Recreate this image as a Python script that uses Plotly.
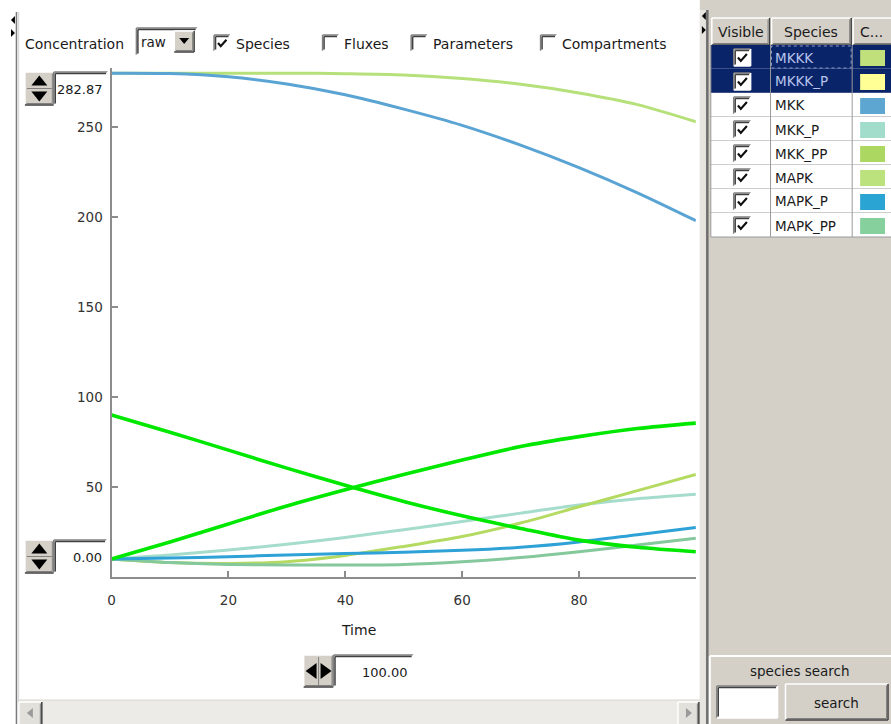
import plotly.graph_objects as go

W, H = 891, 724

# ---------------- data ----------------
time = [0, 10, 20, 30, 40, 50, 60, 70, 80, 90, 100]
species = ["MKKK", "MKKK_P", "MKK", "MKK_P", "MKK_PP", "MAPK", "MAPK_P", "MAPK_PP"]
MKKK = [90, 80.5, 70.5, 60.5, 51, 42, 34, 27, 20.5, 16.5, 14]
MKKK_P = [10, 19.5, 29.5, 39.5, 48.5, 57, 65, 72.5, 78, 82.5, 85.5]
MKK = [280, 279.8, 278, 274, 268, 260, 251, 240, 227.5, 213.5, 198]
MKK_P = [10, 12.2, 15, 18.2, 22, 26.3, 30.8, 35.5, 40, 43.5, 46]
MKK_PP = [10, 8, 7.5, 8.5, 12, 17, 22.5, 30, 39, 48, 57]
MAPK = [280, 280, 280, 280, 279.7, 279, 277, 273.8, 269, 262.5, 253]
MAPK_P = [10, 10.5, 11.3, 12.2, 13, 13.8, 14.8, 16.5, 19.5, 23.5, 27.5]
MAPK_PP = [10, 8, 7, 6.7, 6.6, 7, 8.5, 10.8, 14, 17.8, 21.5]
values = {"MKKK": MKKK, "MKKK_P": MKKK_P, "MKK": MKK, "MKK_P": MKK_P,
          "MKK_PP": MKK_PP, "MAPK": MAPK, "MAPK_P": MAPK_P, "MAPK_PP": MAPK_PP}
swatch_colors = ["#c0e07c", "#ffff96", "#5ea6d2", "#a2dccb", "#acd862",
                 "#bce27e", "#2aa4d2", "#86d09e"]
line_colors = ["#00e800", "#00e800", "#5aa4d4", "#a5dccc", "#b4da62",
               "#b6e07a", "#2ea2d6", "#84c89c"]
selected = ["MKKK", "MKKK_P"]
draw_order = ["MAPK", "MKK", "MKK_P", "MKK_PP", "MAPK_PP", "MAPK_P", "MKKK", "MKKK_P"]
y_ticks = [50, 100, 150, 200, 250]
x_ticks = [0, 20, 40, 60, 80, 100]
x_tick_text = ["0", "20", "40", "60", "80", ""]
y_min, y_max = 0.0, 282.87
t_max = 100.0
x_title = "Time"

FONT = "DejaVu Sans"

# ---------------- helpers (GUI chrome, pixel coords) ----------------
shapes, annots = [], []


def X(x):
    return x / W


def Y(y):
    return 1 - y / H


def rect(x0, y0, x1, y1, fill=None, line=None, lw=1, dash=None):
    ln = dict(color=line if line else "rgba(0,0,0,0)", width=lw if line else 0)
    if dash:
        ln["dash"] = dash
    shapes.append(dict(type="rect", xref="paper", yref="paper",
                       x0=X(x0), x1=X(x1), y0=Y(y1), y1=Y(y0),
                       fillcolor=fill if fill else "rgba(0,0,0,0)",
                       line=ln, layer="above"))


def line(x0, y0, x1, y1, color, lw=1):
    shapes.append(dict(type="line", xref="paper", yref="paper",
                       x0=X(x0), x1=X(x1), y0=Y(y0), y1=Y(y1),
                       line=dict(color=color, width=lw), layer="above"))


def poly(pts, fill=None, color=None, lw=1, close=True):
    p = "M " + " L ".join(f"{X(a):.5f},{Y(b):.5f}" for a, b in pts)
    if close:
        p += " Z"
    shapes.append(dict(type="path", xref="paper", yref="paper", path=p,
                       fillcolor=fill if fill else "rgba(0,0,0,0)",
                       line=dict(color=color if color else "rgba(0,0,0,0)",
                                 width=lw if color else 0), layer="above"))


def text(x, y, s, size=13, color="#1a1a1a", xanchor="left", family=FONT):
    annots.append(dict(x=X(x), y=Y(y), xref="paper", yref="paper", text=s,
                       showarrow=False, xanchor=xanchor, yanchor="middle",
                       font=dict(size=size, color=color, family=family),
                       borderpad=0))


def raised(x0, y0, x1, y1, fill="#d4d0c8"):
    rect(x0, y0, x1, y1, fill=fill)
    line(x0, y0, x1, y0, "#ffffff", 1.5)
    line(x0, y0, x0, y1, "#ffffff", 1.5)
    line(x0, y1, x1, y1, "#404040", 1.5)
    line(x1, y0, x1, y1, "#404040", 1.5)
    line(x0 + 1.5, y1 - 1.5, x1 - 1.5, y1 - 1.5, "#808080", 1)
    line(x1 - 1.5, y0 + 1.5, x1 - 1.5, y1 - 1.5, "#808080", 1)


def sunken(x0, y0, x1, y1, fill="#ffffff"):
    rect(x0, y0, x1, y1, fill=fill)
    line(x0, y0, x1, y0, "#808080", 1.5)
    line(x0, y0, x0, y1, "#808080", 1.5)
    line(x0 + 1.5, y0 + 1.5, x1 - 1.5, y0 + 1.5, "#404040", 1.5)
    line(x0 + 1.5, y0 + 1.5, x0 + 1.5, y1 - 1.5, "#404040", 1.5)
    line(x0, y1, x1, y1, "#ffffff", 1.5)
    line(x1, y0, x1, y1, "#ffffff", 1.5)


def checkbox(x0, y0, size, checked=True):
    sunken(x0, y0, x0 + size, y0 + size)
    if checked:
        s = size
        poly([(x0 + 0.25 * s, y0 + 0.5 * s), (x0 + 0.42 * s, y0 + 0.7 * s),
              (x0 + 0.78 * s, y0 + 0.3 * s)], color="#101010", lw=2.2, close=False)


def vspinner(x0, y0, x1, y1, tx1, label):
    bx = x0 + 29
    raised(x0, y0, bx, y1)
    ym = (y0 + y1) / 2
    line(x0 + 2, ym, bx - 2, ym, "#808080", 1)
    cx = (x0 + bx) / 2
    poly([(cx - 8, ym - 3), (cx + 8, ym - 3), (cx, ym - 13)], fill="#000000")
    poly([(cx - 8, ym + 3), (cx + 8, ym + 3), (cx, ym + 13)], fill="#000000")
    sunken(bx, y0, tx1, y1)
    text(tx1 - 4, ym + 1, label, size=13, xanchor="right")


# ---------------- background panels ----------------
# left panel border
line(12.5, 12, 12.5, H, "#7a7a7a", 1.5)
line(14.5, 12, 14.5, H, "#d8d8d8", 1.5)
# split-pane arrows (left)
poly([(7, 20), (11, 16), (11, 24)], fill="#000000")
poly([(11, 33), (7, 29), (7, 37)], fill="#000000")

# right panel
rect(699, 0, W, H, fill="#d4d0c8")
rect(699, 10, 705, H, fill="#e6e4df")
line(706.5, 10, 706.5, H, "#6e6e6e", 2.5)
poly([(701, 16), (705, 12), (705, 20)], fill="#000000")
poly([(705, 30), (701, 26), (701, 34)], fill="#000000")

# ---------------- control bar ----------------
text(20, 43.5, "Concentration", size=14)
sunken(133, 28, 194, 55)
text(137, 42, "raw", size=13.5)
raised(171, 31, 191, 52)
poly([(176, 38), (186, 38), (181, 44)], fill="#000000")
cb_items = [("Species", 211, True), ("Fluxes", 320, False),
            ("Parameters", 409, False), ("Compartments", 539, False)]
for lbl, cx0, chk in cb_items:
    checkbox(cx0, 35, 16, chk)
    text(cx0 + 21, 43.5, lbl, size=14)

# ---------------- spinners ----------------
vspinner(21, 72, 50, 105, 104, f"{y_max:.2f}")
vspinner(21, 540, 50, 573, 103, f"{y_min:.2f}")
# horizontal spinner for time end
raised(301, 655, 331, 687)
line(316, 657, 316, 685, "#808080", 1)
poly([(303, 671), (314, 663), (314, 679)], fill="#000000")
poly([(329, 671), (318, 663), (318, 679)], fill="#000000")
sunken(331, 655, 411, 687)
text(407, 672, f"{t_max:.2f}", size=13, xanchor="right")

# x-axis title
text(356, 630, x_title, size=14, xanchor="center")

# ---------------- bottom scrollbar ----------------
rect(15, 700, 699, H, fill="#ecebe7")
line(15, 700, 699, 700, "#d8d6d0", 1)
raised(15, 702, 38, H + 2, fill="#e2e0da")
poly([(23, 713), (29, 708), (29, 718)], fill="#9a9a9a")
raised(677, 702, 698, H + 2, fill="#e2e0da")
poly([(691, 713), (685, 708), (685, 718)], fill="#9a9a9a")

# ---------------- species table ----------------
tx0, c1, c2, tx1 = 710, 770, 852, 891
raised(tx0 + 1, 18, c1 - 1, 45)
raised(c1 + 1, 18, c2 - 1, 45)
raised(c2 + 1, 18, tx1 + 3, 45)
text((tx0 + c1) / 2, 32, "Visible", size=14, xanchor="center")
text((c1 + c2) / 2, 32, "Species", size=14, xanchor="center")
text(871, 32, "C...", size=14, xanchor="center")
row_h = 24
for i, name in enumerate(species):
    y0 = 45 + i * row_h
    y1 = y0 + row_h
    sel = name in selected
    rect(tx0, y0, tx1, y1, fill="#0a246a" if sel else "#ffffff")
    line(tx0, y1, tx1, y1, "#9a9a9a" if not sel else "#6f7fa6", 1)
    line(c1, y0, c1, y1, "#9a9a9a", 1)
    line(c2, y0, c2, y1, "#9a9a9a", 1)
    checkbox(733, y0 + 4, 17, True)
    text(c1 + 3, y0 + 12.5, name, size=13.5,
         color="#b8c4ec" if sel else "#1a1a1a")
    if i == 0:
        rect(c1 + 1, y0 + 1, c2 - 1, y1 - 1, line="#8a9ac8", lw=1, dash="dot")
    rect(860, y0 + 5, 885, y0 + 21, fill=swatch_colors[i])
line(tx0, 45, tx0, 45 + row_h * len(species), "#9a9a9a", 1)

# ---------------- species search ----------------
line(709, 656, W, 656, "#ffffff", 2)
line(709, 656, 709, H, "#ffffff", 2)
text(800, 671, "species search", size=13.5, xanchor="center")
sunken(716, 686, 777, 718)
raised(785, 684, 888, 720)
text(836, 703, "search", size=13.5, xanchor="center")

# ---------------- chart ----------------
fig = go.Figure()
for name in draw_order:
    idx = species.index(name)
    sel = name in selected
    fig.add_trace(go.Scatter(
        x=time, y=values[name], mode="lines", name=name,
        line=dict(color=line_colors[idx], width=3.6 if sel else 3,
                  shape="spline", smoothing=0.8),
        hoverinfo="x+y+name"))

x_dom = [108 / W, 695 / W]
y_dom = [(H - 577) / H, (H - 68) / H]

fig.update_layout(
    width=W, height=H,
    margin=dict(l=0, r=0, t=0, b=0),
    paper_bgcolor="#ffffff", plot_bgcolor="#ffffff",
    showlegend=False,
    font=dict(family=FONT, size=13, color="#333333"),
    xaxis=dict(domain=x_dom, range=[0, t_max], tickvals=x_ticks, ticktext=x_tick_text,
               showgrid=False, zeroline=False, showline=True, linecolor="#8c8c8c",
               linewidth=2, ticks="inside", ticklen=6, tickwidth=1.5, tickcolor="#8c8c8c",
               ticklabelstandoff=10, tickfont=dict(family=FONT, size=13.5, color="#333333"),
               fixedrange=True),
    yaxis=dict(domain=y_dom, range=[y_min, y_max], tickvals=y_ticks,
               showgrid=False, zeroline=False, showline=True, linecolor="#8c8c8c",
               linewidth=2, ticks="inside", ticklen=6, tickwidth=1.5, tickcolor="#8c8c8c",
               ticklabelstandoff=4, tickfont=dict(family=FONT, size=13.5, color="#333333"),
               fixedrange=True),
    shapes=shapes,
    annotations=annots,
)

fig.write_html("out.html", config={"displayModeBar": False},
               post_script="document.body.style.margin='0';document.body.style.overflow='hidden';")
